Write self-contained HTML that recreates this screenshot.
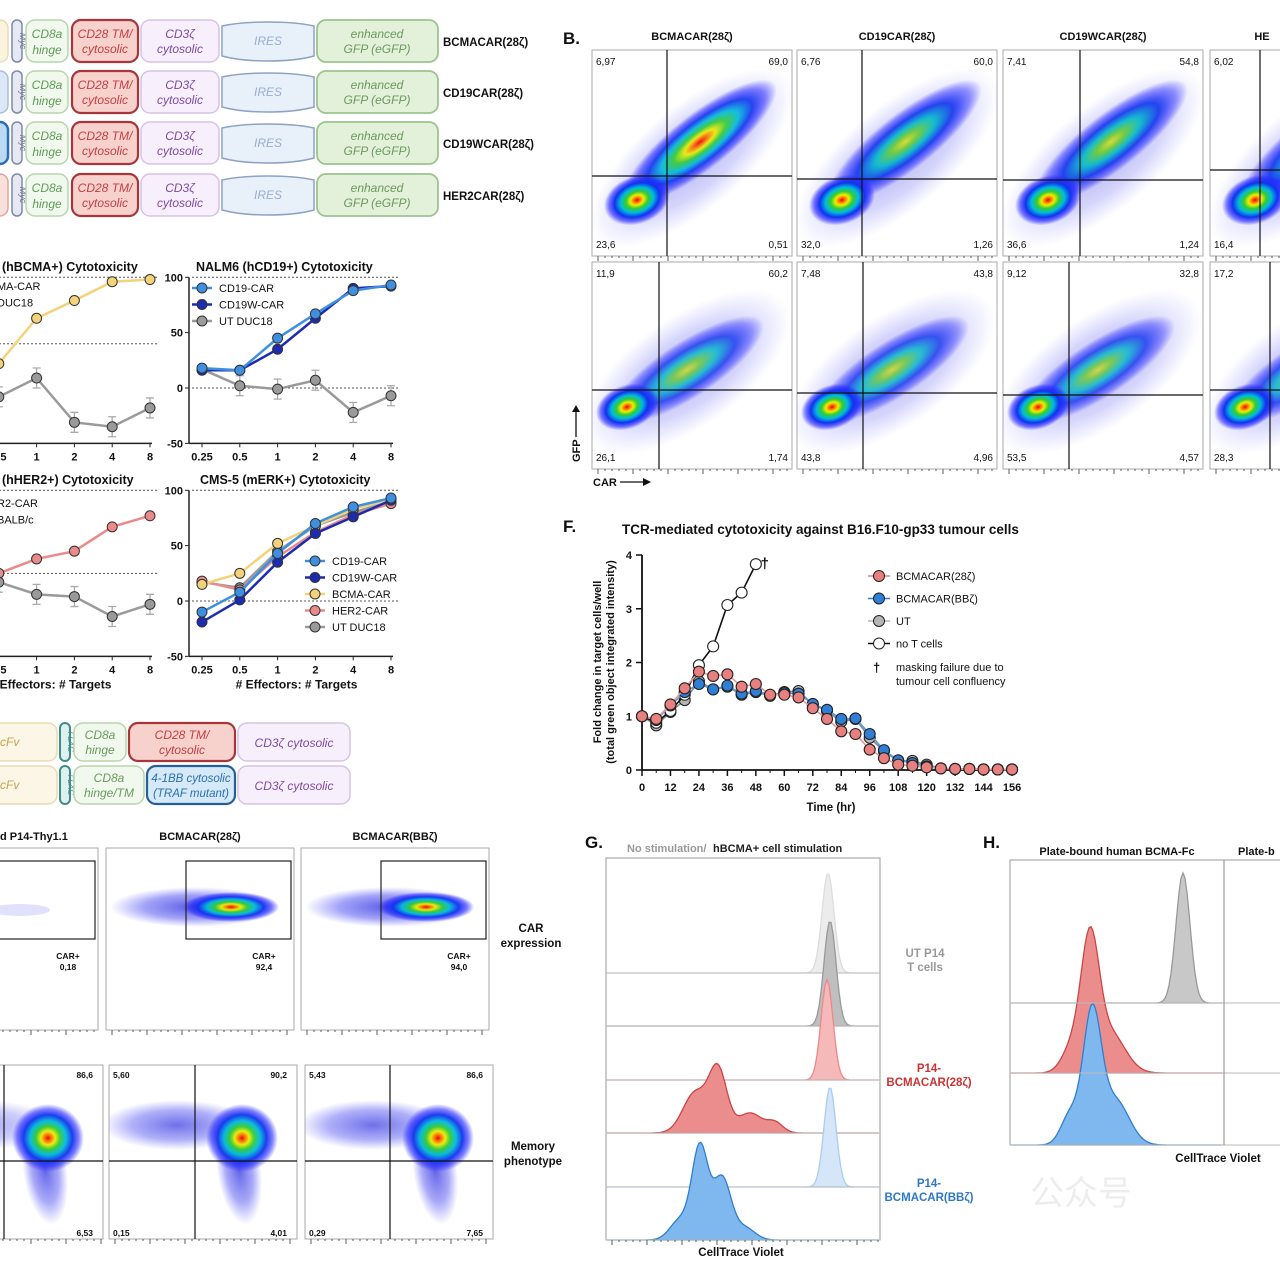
<!DOCTYPE html>
<html><head><meta charset="utf-8">
<style>
html,body{margin:0;padding:0;background:#fff;}
svg{display:block;font-family:"Liberation Sans",sans-serif;}
.b{font-weight:bold;}
.it{font-style:italic;}
</style></head>
<body>
<svg id="fig" width="1280" height="1279" viewBox="0 0 1280 1279" xmlns="http://www.w3.org/2000/svg">
<defs>
<radialGradient id="hot"><stop offset="0" stop-color="#e00"/><stop offset="0.1" stop-color="#f70"/><stop offset="0.2" stop-color="#ee0"/><stop offset="0.34" stop-color="#3c3"/><stop offset="0.5" stop-color="#0bd"/><stop offset="0.68" stop-color="#13e"/><stop offset="0.85" stop-color="#22f" stop-opacity="0.6"/><stop offset="1" stop-color="#22f" stop-opacity="0"/></radialGradient>
<radialGradient id="warm"><stop offset="0" stop-color="#dd2"/><stop offset="0.18" stop-color="#6c3"/><stop offset="0.38" stop-color="#0bc"/><stop offset="0.62" stop-color="#13e"/><stop offset="0.85" stop-color="#22f" stop-opacity="0.5"/><stop offset="1" stop-color="#22f" stop-opacity="0"/></radialGradient>
<radialGradient id="cool"><stop offset="0" stop-color="#22d"/><stop offset="0.6" stop-color="#33e" stop-opacity="0.6"/><stop offset="1" stop-color="#44f" stop-opacity="0"/></radialGradient>
</defs>
<g id="root"></g>
</svg>
<script>
// ---------- Panel F data ----------
const fTimes = [0,6,12,18,24,30,36,42,48,54,60,66,72,78,84,90,96,102,108,114,120,126,132,138,144,150,156];
const f28z = [1,0.95,1.22,1.52,1.83,1.75,1.78,1.55,1.6,1.4,1.4,1.35,1.15,0.95,0.72,0.67,0.38,0.22,0.1,0.08,0.05,0.03,0.02,0.02,0.01,0.01,0.01];
const fBBz = [1,0.93,1.2,1.45,1.6,1.5,1.57,1.42,1.47,1.4,1.43,1.42,1.23,1.12,0.95,0.96,0.67,0.37,0.18,0.13,0.07,0.03,0.02,0.02,0.01,0.01,0.01];
const fUT = [1,0.83,1.08,1.3,1.65,1.5,1.55,1.4,1.45,1.38,1.45,1.47,1.22,1.1,0.9,0.95,0.6,0.35,0.17,0.17,0.1,0.03,0.02,0.02,0.01,0.01,0.01];
const fNoT = [1,0.88,1.1,1.4,1.95,2.3,3.07,3.3,3.83];
const fYTicks = [0,1,2,3,4];
const fXTicks = [0,12,24,36,48,60,72,84,96,108,120,132,144,156];
// ---------- Cytotoxicity data ----------
const ratioLabels = ["0.25","0.5","1","2","4","8"];
const cytoYTicks = [100,50,0,-50];
const bcmaCar = [null,22,63,79,96,98];
const bcmaUT = [null,-8,9,-31,-35,-18];
const nalmCD19 = [18,16,45,67,88,93];
const nalmCD19W = [16,16,35,63,90,92];
const nalmUT = [17,2,-1,7,-22,-7];
const her2Car = [null,25,38,45,67,77];
const her2UT = [null,17,6,4,-14,-3];
const cmsCD19 = [-10,8,43,70,85,93];
const cmsCD19W = [-19,1,35,61,76,91];
const cmsBCMA = [15,25,52,68,83,92];
const cmsHER2 = [18,10,40,62,78,88];
const cmsUT = [17,12,45,68,80,90];
const gLanes = ["UT-ns","UT-stim","28z-ns","28z-stim","BBz-ns","BBz-stim"];

const NS="http://www.w3.org/2000/svg";
const root=document.getElementById('root');
function mk(tag,attrs,parent){const e=document.createElementNS(NS,tag);for(const k in attrs)e.setAttribute(k,attrs[k]);(parent||root).appendChild(e);return e;}
function txt(x,y,s,size,opts,parent){const o=Object.assign({x:x,y:y,'font-size':size},opts||{});const t=mk('text',o,parent);t.textContent=s;return t;}

// ---------- Top construct diagrams ----------
const topRows=[20,71,122,174];
const topNames=["BCMACAR(28ζ)","CD19CAR(28ζ)","CD19WCAR(28ζ)","HER2CAR(28ζ)"];
const firstCol=["#fbf3dc","#dce8f8","#bcd9f3","#f9e0dc"];
const firstStroke=["#e6dcb8","#a7bedd","#2a6fb3","#e3a39b"];
topRows.forEach((y,i)=>{
  const g=mk('g',{});
  
  
  mk('rect',{x:-12,y:y,width:20,height:42,rx:8,fill:firstCol[i],stroke:firstStroke[i],'stroke-width':i==2?2.5:1.5},g);
  mk('rect',{x:12,y:y,width:10,height:42,rx:5,fill:'#e6e9f2',stroke:'#7d89ad','stroke-width':1.5},g);
  txt(0,0,'Myc',9,{transform:`translate(20,${y+21}) rotate(90)`,'text-anchor':'middle',fill:'#6a7397',class:'it'},g);
  mk('rect',{x:26,y:y,width:42,height:42,rx:9,fill:'#f1f8ee',stroke:'#b7d5ab','stroke-width':1.5},g);
  txt(47,y+18,'CD8a',12,{'text-anchor':'middle',fill:'#5f9a54',class:'it'},g);
  txt(47,y+34,'hinge',12,{'text-anchor':'middle',fill:'#5f9a54',class:'it'},g);
  mk('rect',{x:72,y:y,width:66,height:42,rx:9,fill:'#f7d2cc',stroke:'#a8353a','stroke-width':2.2},g);
  txt(105,y+18,'CD28 TM/',12,{'text-anchor':'middle',fill:'#c23e44',class:'it'},g);
  txt(105,y+33,'cytosolic',12,{'text-anchor':'middle',fill:'#c23e44',class:'it'},g);
  mk('rect',{x:141,y:y,width:78,height:42,rx:9,fill:'#f7effb',stroke:'#d6c3e6','stroke-width':1.5},g);
  txt(180,y+18,'CD3ζ',12,{'text-anchor':'middle',fill:'#7d4aa3',class:'it'},g);
  txt(180,y+33,'cytosolic',12,{'text-anchor':'middle',fill:'#7d4aa3',class:'it'},g);
  mk('path',{d:`M222 ${y+6} Q240 ${y+2} 268 ${y+2} Q296 ${y+2} 314 ${y+6} L314 ${y+36} Q296 ${y+41} 268 ${y+41} Q240 ${y+41} 222 ${y+36} Z`,fill:'#e8f0f9',stroke:'#8ea2c3','stroke-width':1.5},g);
  txt(268,y+25,'IRES',12,{'text-anchor':'middle',fill:'#9aaed0',class:'it'},g);
  mk('rect',{x:317,y:y,width:121,height:42,rx:9,fill:'#e3f0da',stroke:'#9cc48c','stroke-width':1.8},g);
  txt(377,y+18,'enhanced',12,{'text-anchor':'middle',fill:'#6a9a5e',class:'it'},g);
  txt(377,y+33,'GFP (eGFP)',12,{'text-anchor':'middle',fill:'#6a9a5e',class:'it'},g);
  const lab=txt(443,y+26,topNames[i],11.5,{class:'b',fill:'#111'},g);
  
  
});

// ---------- Cytotoxicity charts ----------
const seriesColor={car:'#f3d27a',ut:'#9a9a9a',cd19:'#3f8fe0',cd19w:'#1c2bb0',her2:'#ea8a8a'};
function cyto(name,title,titleX,y0,x0,series,dots,legend,legendXY,showAxis,xTitle){
  const g=mk('g',{});
  
  
  const step=37.8;
  const xs=i=>x0+i*step;
  const ys=v=>y0-v*1.107;
  txt(titleX,y0-117,title,12.5,{class:'b',fill:'#111'},g);
  dots.forEach(v=>mk('line',{x1:x0-10,x2:x0+5*step+8,y1:ys(v),y2:ys(v),stroke:'#555','stroke-dasharray':'2,2','stroke-width':1},g));
  if(showAxis){
    mk('line',{x1:x0-13,x2:x0-13,y1:ys(100),y2:ys(-50),stroke:'#222','stroke-width':1.5},g);
    cytoYTicks.forEach(t=>{mk('line',{x1:x0-17,x2:x0-13,y1:ys(t),y2:ys(t),stroke:'#222'},g);
      txt(x0-19,ys(t)+4,String(t),11,{'text-anchor':'end',class:'b',fill:'#111'},g);});
  }
  mk('line',{x1:x0-13,x2:x0+5*step+2,y1:ys(-50),y2:ys(-50),stroke:'#222','stroke-width':1.5},g);
  ratioLabels.forEach((l,i)=>{mk('line',{x1:xs(i),x2:xs(i),y1:ys(-50),y2:ys(-50)+4,stroke:'#222'},g);
    txt(xs(i),ys(-50)+17,l,11,{'text-anchor':'middle',class:'b',fill:'#111'},g);});
  if(xTitle)txt(x0+2.5*step,ys(-50)+32,xTitle,12,{'text-anchor':'middle',class:'b',fill:'#111'},g);
  series.forEach(s=>{
    let d='';s.v.forEach((v,i)=>{if(v===null)return;d+=(d?'L':'M')+xs(i)+' '+ys(v);});
    mk('path',{d:d,fill:'none',stroke:s.c,'stroke-width':2.5},g);
    s.v.forEach((v,i)=>{if(v===null)return;
      if(s.n==='ut'&&i>0)mk('path',{d:`M${xs(i)-4} ${ys(v)-10}h8M${xs(i)} ${ys(v)-10}v20M${xs(i)-4} ${ys(v)+10}h8`,stroke:'#aaa','stroke-width':1.3,fill:'none'},g);
      const c=mk('circle',{cx:xs(i),cy:ys(v),r:5,fill:s.c,stroke:'#333','stroke-width':1},g);
      
      });
  });
  legend.forEach((L,i)=>{
    const ly=legendXY[1]+i*16.5;
    mk('line',{x1:legendXY[0]-10,x2:legendXY[0]+10,y1:ly,y2:ly,stroke:L.c,'stroke-width':2.5},g);
    mk('circle',{cx:legendXY[0],cy:ly,r:5,fill:L.c,stroke:'#333'},g);
    txt(legendXY[0]+17,ly+4,L.t,11,{fill:'#111'},g);
  });
}
cyto('bcma-cytotoxicity-chart','(hBCMA+) Cytotoxicity',2,388,-39,
  [{v:bcmaCar,c:seriesColor.car,n:'bcma-car'},{v:bcmaUT,c:seriesColor.ut,n:'ut'}],[100,40],
  [{t:'MA-CAR',c:seriesColor.car},{t:'DUC18',c:seriesColor.ut}],[-20,286],false,null);
cyto('nalm6-cytotoxicity-chart','NALM6 (hCD19+) Cytotoxicity',196,388,202,
  [{v:nalmUT,c:seriesColor.ut,n:'ut'},{v:nalmCD19W,c:seriesColor.cd19w,n:'cd19w'},{v:nalmCD19,c:seriesColor.cd19,n:'cd19'}],[100,0],
  [{t:'CD19-CAR',c:seriesColor.cd19},{t:'CD19W-CAR',c:seriesColor.cd19w},{t:'UT DUC18',c:seriesColor.ut}],[202,288],true,null);
cyto('her2-cytotoxicity-chart','(hHER2+) Cytotoxicity',2,601,-39,
  [{v:her2Car,c:seriesColor.her2,n:'her2-car'},{v:her2UT,c:seriesColor.ut,n:'ut'}],[100,25],
  [{t:'R2-CAR',c:seriesColor.her2},{t:'BALB/c',c:seriesColor.ut}],[-20,503],false,'Effectors: # Targets');
cyto('cms5-cytotoxicity-chart','CMS-5 (mERK+) Cytotoxicity',200,601,202,
  [{v:cmsUT,c:seriesColor.ut,n:'cms-ut'},{v:cmsHER2,c:seriesColor.her2,n:'her2'},{v:cmsBCMA,c:seriesColor.car,n:'bcma'},{v:cmsCD19W,c:seriesColor.cd19w,n:'cd19w'},{v:cmsCD19,c:seriesColor.cd19,n:'cd19'}],[100,0],
  [{t:'CD19-CAR',c:seriesColor.cd19},{t:'CD19W-CAR',c:seriesColor.cd19w},{t:'BCMA-CAR',c:seriesColor.car},{t:'HER2-CAR',c:seriesColor.her2},{t:'UT DUC18',c:seriesColor.ut}],[315,561],true,'# Effectors: # Targets');

// ---------- Bottom-left constructs ----------
[[723,false],[766,true]].forEach(([y,bb],i)=>{
  const g=mk('g',{});
  
  
  mk('rect',{x:-20,y:y,width:77,height:38,rx:9,fill:'#fcf6e6',stroke:'#e8dcb4','stroke-width':1.5},g);
  txt(0,y+23,'cFv',12,{fill:'#c7a24a',class:'it'},g);
  mk('rect',{x:60,y:y,width:10,height:38,rx:5,fill:'#dff1ee',stroke:'#3d8f86','stroke-width':2},g);
  txt(0,0,'FLAG',8,{transform:`translate(68,${y+19}) rotate(90)`,'text-anchor':'middle',fill:'#3d8f86',class:'it'},g);
  if(!bb){
    mk('rect',{x:74,y:y,width:52,height:38,rx:9,fill:'#f1f8ee',stroke:'#b7d5ab','stroke-width':1.5},g);
    txt(100,y+16,'CD8a',12,{'text-anchor':'middle',fill:'#6a9a5e',class:'it'},g);
    txt(100,y+31,'hinge',12,{'text-anchor':'middle',fill:'#6a9a5e',class:'it'},g);
    mk('rect',{x:129,y:y,width:106,height:38,rx:9,fill:'#f7d2cc',stroke:'#a8353a','stroke-width':2.2},g);
    txt(182,y+16,'CD28 TM/',12,{'text-anchor':'middle',fill:'#c23e44',class:'it'},g);
    txt(182,y+31,'cytosolic',12,{'text-anchor':'middle',fill:'#c23e44',class:'it'},g);
  } else {
    mk('rect',{x:74,y:y,width:70,height:38,rx:9,fill:'#f1f8ee',stroke:'#b7d5ab','stroke-width':1.5},g);
    txt(109,y+16,'CD8a',12,{'text-anchor':'middle',fill:'#6a9a5e',class:'it'},g);
    txt(109,y+31,'hinge/TM',12,{'text-anchor':'middle',fill:'#6a9a5e',class:'it'},g);
    mk('rect',{x:147,y:y,width:88,height:38,rx:9,fill:'#d6e9f8',stroke:'#245f95','stroke-width':2.2},g);
    txt(191,y+16,'4-1BB cytosolic',11.5,{'text-anchor':'middle',fill:'#2c6fb0',class:'it'},g);
    txt(191,y+31,'(TRAF mutant)',11.5,{'text-anchor':'middle',fill:'#2c6fb0',class:'it'},g);
  }
  mk('rect',{x:238,y:y,width:112,height:38,rx:9,fill:'#f7effb',stroke:'#d6c3e6','stroke-width':1.5},g);
  txt(294,y+24,'CD3ζ cytosolic',12,{'text-anchor':'middle',fill:'#7d4aa3',class:'it'},g);
});

function ticksBottom(g,x1,x2,y){for(let x=x1+6;x<x2;x+=7)mk('line',{x1:x,x2:x,y1:y,y2:y+(((x-x1)%35)<7?5:2),stroke:'#333','stroke-width':0.8},g);}
function blob(g,cx,cy,rx,ry,rot,grad,op){mk('ellipse',{cx:cx,cy:cy,rx:rx,ry:ry,fill:'url(#'+grad+')',opacity:op||1,transform:`rotate(${rot} ${cx} ${cy})`},g);}

// ---------- Panel B ----------
txt(563,44,'B.',17,{class:'b',fill:'#111'});
const bCols=[[592,792,'BCMACAR(28ζ)'],[797,997,'CD19CAR(28ζ)'],[1003,1203,'CD19WCAR(28ζ)'],[1210,1410,'HE']];
const bRows=[[50,256],[262,469]];
const bNums=[[["6,97","69,0","23,6","0,51"],["6,76","60,0","32,0","1,26"],["7,41","54,8","36,6","1,24"],["6,02","","16,4",""]],
             [["11,9","60,2","26,1","1,74"],["7,48","43,8","43,8","4,96"],["9,12","32,8","53,5","4,57"],["17,2","","28,3",""]]];
const bQuad=[[[667,176],[862,179],[1080,180],[1260,170]],[[659,390],[863,393],[1069,395],[1270,390]]];
bCols.forEach((c,ci)=>{
  const t=txt(c[0]+(ci==3?52:100),40,c[2],11,{'text-anchor':'middle',class:'b',fill:'#111'});
  
  
  bRows.forEach((r,ri)=>{
    const g=mk('g',{});
    
    
    const w=c[1]-c[0],h=r[1]-r[0];
    mk('rect',{x:c[0],y:r[0],width:w,height:h,fill:'#fff',stroke:'#aaa'},g);
    const cp=mk('clipPath',{id:'cb'+ci+ri},g);mk('rect',{x:c[0],y:r[0],width:w,height:h},cp);
    const inner=mk('g',{'clip-path':'url(#cb'+ci+ri+')'},g);
    if(ri==0){
      blob(inner,c[0]+100,r[0]+108,125,52,-40,'cool',0.35);
      blob(inner,c[0]+108,r[0]+92,95,28,-38,ci==0?'hot':'warm',0.9);
      blob(inner,c[0]+45,r[0]+150,34,24,-20,'hot');
    } else {
      blob(inner,c[0]+95,r[0]+110,120,55,-35,'cool',0.35);
      blob(inner,c[0]+95,r[0]+108,90,28,-33,'warm',0.8);
      blob(inner,c[0]+35,r[0]+145,32,22,-20,'hot');
    }
    const q=bQuad[ri][ci];
    mk('line',{x1:q[0],x2:q[0],y1:r[0],y2:r[1],stroke:'#111','stroke-width':1.2},g);
    mk('line',{x1:c[0],x2:c[1],y1:q[1],y2:q[1],stroke:'#111','stroke-width':1.2},g);
    const n=bNums[ri][ci];
    txt(c[0]+4,r[0]+15,n[0],10,{fill:'#111'},g);
    txt(c[1]-4,r[0]+15,n[1],10,{'text-anchor':'end',fill:'#111'},g);
    txt(c[0]+4,r[1]-8,n[2],10,{fill:'#111'},g);
    txt(c[1]-4,r[1]-8,n[3],10,{'text-anchor':'end',fill:'#111'},g);
    ticksBottom(g,c[0],c[1],r[1]);
  });
});
txt(0,0,'GFP',11,{transform:'translate(580,462) rotate(-90)',class:'b',fill:'#111'});
mk('line',{x1:576,x2:576,y1:437,y2:408,stroke:'#111','stroke-width':1.3});
mk('path',{d:'M572 412 L576 405 L580 412 Z',fill:'#111'});
txt(593,486,'CAR',11,{class:'b',fill:'#111'});
mk('line',{x1:620,x2:646,y1:482,y2:482,stroke:'#111','stroke-width':1.3});
mk('path',{d:'M643 478 L651 482 L643 486 Z',fill:'#111'});

// ---------- Panel F ----------
txt(563,532,'F.',17,{class:'b',fill:'#111'});
txt(622,534,'TCR-mediated cytotoxicity against B16.F10-gp33 tumour cells',13.5,{class:'b',fill:'#111'});
const fx=t=>642+t*2.372;
const fy=v=>770-v*53.75;
const fg=mk('g',{});


mk('line',{x1:642,x2:642,y1:fy(4),y2:770,stroke:'#111','stroke-width':1.8},fg);
mk('line',{x1:642,x2:1018,y1:770,y2:770,stroke:'#111','stroke-width':1.8},fg);
fYTicks.forEach(t=>{mk('line',{x1:636,x2:642,y1:fy(t),y2:fy(t),stroke:'#111','stroke-width':1.5},fg);
  txt(632,fy(t)+4,String(t),11,{'text-anchor':'end',class:'b',fill:'#111'},fg);});
fXTicks.forEach(t=>{mk('line',{x1:fx(t),x2:fx(t),y1:770,y2:776,stroke:'#111','stroke-width':1.5},fg);
  txt(fx(t),791,String(t),11,{'text-anchor':'middle',class:'b',fill:'#111'},fg);});
for(let t=6;t<156;t+=12)mk('line',{x1:fx(t),x2:fx(t),y1:770,y2:773,stroke:'#111'},fg);
txt(831,811,'Time (hr)',11.5,{'text-anchor':'middle',class:'b',fill:'#111'},fg);
txt(0,0,'Fold change in target cells/well',11,{transform:'translate(601,662) rotate(-90)','text-anchor':'middle',class:'b',fill:'#111'},fg);
txt(0,0,'(total green object integrated intensity)',11,{transform:'translate(614,662) rotate(-90)','text-anchor':'middle',class:'b',fill:'#111'},fg);
function fSeries(vals,fill,line,name){
  let d='';vals.forEach((v,i)=>d+=(i?'L':'M')+fx(fTimes[i])+' '+fy(v));
  mk('path',{d:d,fill:'none',stroke:line,'stroke-width':1.6},fg);
  vals.forEach((v,i)=>{const c=mk('circle',{cx:fx(fTimes[i]),cy:fy(v),r:5.5,fill:fill,stroke:'#222','stroke-width':1.1},fg);
    
    });
}
fSeries(fUT,'#b5b5b5','#888','ut');
fSeries(fNoT,'#fff','#111','no-t-cells');
fSeries(fBBz,'#2f7fd6','#5a9be0','bcmacar-bbz');
fSeries(f28z,'#e98080','#e79a9a','bcmacar-28z');
txt(fx(50),fy(3.75),'†',15,{class:'b',fill:'#111'},fg);
const fLeg=[['BCMACAR(28ζ)','#e98080'],['BCMACAR(BBζ)','#2f7fd6'],['UT','#b5b5b5'],['no T cells','#fff']];
fLeg.forEach((L,i)=>{const y=576+i*22.5;
  const lg=mk('g',{},fg);
  
  
  mk('line',{x1:868,x2:890,y1:y,y2:y,stroke:i==3?'#111':L[1],'stroke-width':1.6},lg);
  mk('circle',{cx:879,cy:y,r:5.5,fill:L[1],stroke:'#222'},lg);
  txt(896,y+4,L[0],11,{fill:'#111'},lg);});
txt(873,672,'†',13,{class:'b',fill:'#111'},fg);
txt(896,671,'masking failure due to',11,{fill:'#111'},fg);
txt(896,685,'tumour cell confluency',11,{fill:'#111'},fg);

// ---------- Bottom-left flow ----------
const blCols1=[[-10,98,'d P14-Thy1.1',0,'0,18'],[106,294,'BCMACAR(28ζ)',1,'92,4'],[301,489,'BCMACAR(BBζ)',1,'94,0']];
blCols1.forEach((c,i)=>{
  const g=mk('g',{});
  
  
  txt(i==0?0:(c[0]+c[1])/2,840,c[2],11,{'text-anchor':i==0?'start':'middle',class:'b',fill:'#111'},g);
  mk('rect',{x:c[0],y:848,width:c[1]-c[0],height:182,fill:'#fff',stroke:'#aaa'},g);
  if(c[3]){blob(g,(c[0]+c[1])/2-5,907,85,20,0,'cool',0.75);blob(g,c[0]+125,907,48,15,0,'hot',0.95);}
  else mk('ellipse',{cx:20,cy:910,rx:30,ry:6,fill:'#33e',opacity:0.15},g);
  const gx=i==0?-10:c[0]+80;
  mk('rect',{x:gx,y:861,width:c[1]-gx-3,height:78,fill:'none',stroke:'#222','stroke-width':1.2},g);
  txt(c[1]-30,959,'CAR+',8.5,{'text-anchor':'middle',class:'b',fill:'#111'},g);
  txt(c[1]-30,970,c[4],8.5,{'text-anchor':'middle',class:'b',fill:'#111'},g);
  ticksBottom(g,c[0],c[1],1030);
});
txt(531,932,'CAR',11.5,{'text-anchor':'middle',class:'b',fill:'#111'});
txt(531,947,'expression',11.5,{'text-anchor':'middle',class:'b',fill:'#111'});
const blCols2=[[-10,103,0,['','86,6','','6,53']],[109,297,195,['5,60','90,2','0,15','4,01']],[305,493,390,['5,43','86,6','0,29','7,65']]];
blCols2.forEach((c,i)=>{
  const g=mk('g',{});
  
  
  mk('rect',{x:c[0],y:1065,width:c[1]-c[0],height:174,fill:'#fff',stroke:'#aaa'},g);
  const cp=mk('clipPath',{id:'cm'+i},g);mk('rect',{x:c[0],y:1065,width:c[1]-c[0],height:174},cp);
  const inner=mk('g',{'clip-path':'url(#cm'+i+')'},g);
  const hx=c[1]-50;
  blob(inner,hx-70,1125,75,25,0,'cool',i==0?0.4:0.65);
  blob(inner,hx-8,1170,22,55,-8,'cool',0.7);
  blob(inner,hx-5,1138,36,34,0,'hot',0.95);
  const vx=i==0?4:c[2];
  mk('line',{x1:vx,x2:vx,y1:1065,y2:1239,stroke:'#111','stroke-width':1.2},g);
  mk('line',{x1:c[0],x2:c[1],y1:1161,y2:1161,stroke:'#111','stroke-width':1.2},g);
  txt(c[0]+4,1078,c[3][0],8.5,{class:'b',fill:'#111'},g);
  txt(c[1]-10,1078,c[3][1],8.5,{'text-anchor':'end',class:'b',fill:'#111'},g);
  txt(c[0]+4,1236,c[3][2],8.5,{class:'b',fill:'#111'},g);
  txt(c[1]-10,1236,c[3][3],8.5,{'text-anchor':'end',class:'b',fill:'#111'},g);
  ticksBottom(g,c[0],c[1],1239);
});
txt(533,1150,'Memory',11.5,{'text-anchor':'middle',class:'b',fill:'#111'});
txt(533,1165,'phenotype',11.5,{'text-anchor':'middle',class:'b',fill:'#111'});

function hist(g,base,peaks,fill,stroke,x1,x2){
  let d='M'+x1+' '+base;
  for(let x=x1;x<=x2;x+=2){let h=0;peaks.forEach(p=>h+=p[2]*Math.exp(-Math.pow((x-p[0])/p[1],2)/2));d+='L'+x+' '+(base-h).toFixed(1);}
  d+='L'+x2+' '+base+'Z';
  mk('path',{d:d,fill:fill,stroke:stroke,'stroke-width':1.3},g);
}

// ---------- Panel G ----------
txt(585,848,'G.',17,{class:'b',fill:'#111'});
txt(627,852,'No stimulation/',11,{class:'b',fill:'#999'});
txt(713,852,'hBCMA+ cell stimulation',11,{class:'b',fill:'#222'});
const gG=mk('g',{});


mk('rect',{x:606,y:858,width:274,height:382,fill:'#fff',stroke:'#999'},gG);
const gBase=[973,1026,1080,1133,1187,1240];
const gPeaks=[[[828,6,100]],[[830,6,105]],[[827,6,100]],[[695,12,40],[718,9,62],[750,12,20],[775,8,10]],[[830,6,100]],[[700,8,92],[722,9,62],[680,10,20],[745,10,12]]];
const gFill=['#ececec','#bfbfbf','#f5b9b9','#ec8d8d','#d4e6f8','#7fb8ef'];
const gStroke=['#ddd','#999','#e88','#c44','#a9cdf0','#2d7fcf'];
gBase.forEach((b,i)=>{hist(gG,b,gPeaks[i],gFill[i],gStroke[i],607,879);
  mk('line',{x1:606,x2:880,y1:b,y2:b,stroke:'#bbb'},gG);});
ticksBottom(gG,606,880,1240);
txt(741,1256,'CellTrace Violet',11.5,{'text-anchor':'middle',class:'b',fill:'#111'});
txt(925,957,'UT P14',11.5,{'text-anchor':'middle',class:'b',fill:'#999'});
txt(925,971,'T cells',11.5,{'text-anchor':'middle',class:'b',fill:'#999'});
txt(929,1072,'P14-',11.5,{'text-anchor':'middle',class:'b',fill:'#c33'});
txt(929,1086,'BCMACAR(28ζ)',11.5,{'text-anchor':'middle',class:'b',fill:'#c33'});
txt(929,1187,'P14-',11.5,{'text-anchor':'middle',class:'b',fill:'#2f78c6'});
txt(929,1201,'BCMACAR(BBζ)',11.5,{'text-anchor':'middle',class:'b',fill:'#2f78c6'});

// ---------- Panel H ----------
txt(983,848,'H.',17,{class:'b',fill:'#111'});
txt(1117,855,'Plate-bound human BCMA-Fc',11,{'text-anchor':'middle',class:'b',fill:'#111'});
txt(1238,855,'Plate-b',11,{class:'b',fill:'#111'});
const gH=mk('g',{});


mk('rect',{x:1010,y:860,width:290,height:285,fill:'#fff',stroke:'#999'},gH);
hist(gH,1003,[[1183,7,130]],'#c8c8c8','#999',1011,1222);
hist(gH,1073,[[1090,9,125],[1110,15,40],[1072,10,25]],'#ec8d8d','#c44',1011,1222);
hist(gH,1145,[[1092,9,128],[1115,14,45],[1070,9,30]],'#7fb8ef','#2d7fcf',1011,1222);
[1003,1073,1145].forEach(b=>mk('line',{x1:1010,x2:1280,y1:b,y2:b,stroke:'#bbb'},gH));
mk('line',{x1:1224,x2:1224,y1:860,y2:1145,stroke:'#888'},gH);
txt(1218,1162,'CellTrace Violet',11.5,{'text-anchor':'middle',class:'b',fill:'#111'});
txt(1030,1205,'公众号',34,{fill:'#ddd',opacity:0.5,'font-family':'"Liberation Sans","Noto Sans CJK SC",sans-serif'});
</script>
</body></html>
